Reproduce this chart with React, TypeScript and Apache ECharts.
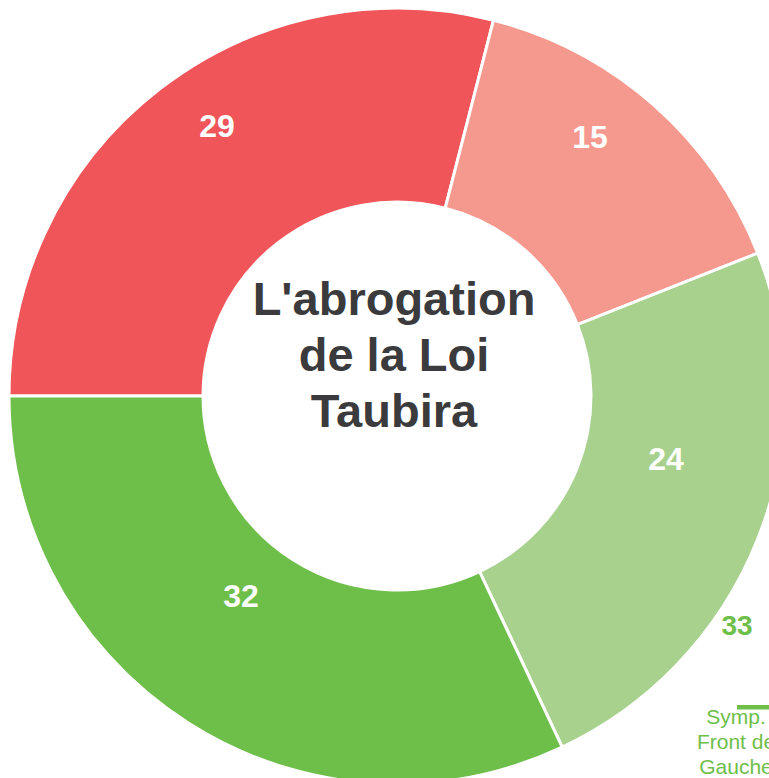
import React, { useEffect, useRef } from "react";
import * as echarts from "echarts";

const categories = ["Tout à fait favorable", "Plutôt favorable", "Plutôt opposé", "Tout à fait opposé"];
const values = [29, 15, 24, 32];
const colors = ["#EF5559", "#F5988D", "#A8D18D", "#6EBE4A"];
const centerTitle = "L'abrogation\nde la Loi\nTaubira";
const sideValue = 33;
const sideLegend = "Symp.\nFront de\nGauche";

// label anchor points (pixel), per slice
const labelPoints: [number, number][] = [
  [217, 126],
  [590, 137],
  [666, 459],
  [241, 596],
];

export default function App() {
  const ref = useRef<HTMLDivElement>(null);
  useEffect(() => {
    if (!ref.current) return;
    const chart = echarts.init(ref.current, undefined, { renderer: "svg" });
    chart.setOption({
      animation: false,
      backgroundColor: "#ffffff",
      series: [
        {
          type: "pie",
          center: [397, 396],
          radius: [194, 388],
          startAngle: 180,
          clockwise: true,
          avoidLabelOverlap: false,
          itemStyle: { borderColor: "#ffffff", borderWidth: 3 },
          label: {
            show: true,
            position: "inside",
            formatter: "{c}",
            color: "#ffffff",
            fontSize: 32,
            fontWeight: "bold",
            fontFamily: "Liberation Sans, Arial, sans-serif",
            align: "center",
            verticalAlign: "middle",
          },
          labelLine: { show: false },
          labelLayout: (params: any) => ({
            x: labelPoints[params.dataIndex][0],
            y: labelPoints[params.dataIndex][1],
            align: "center",
            verticalAlign: "middle",
          }),
          emphasis: { disabled: true },
          data: categories.map((name, i) => ({
            name,
            value: values[i],
            itemStyle: { color: colors[i] },
          })),
        },
      ],
      graphic: [
        {
          type: "text",
          x: 394,
          y: 354,
          style: {
            text: centerTitle,
            fill: "#3B3B3D",
            font: "bold 47px 'Liberation Sans', Arial, sans-serif",
            lineHeight: 56,
            align: "center",
            verticalAlign: "middle",
          },
        },
        {
          type: "text",
          x: 737,
          y: 625,
          style: {
            text: String(sideValue),
            fill: "#6EBE4A",
            font: "bold 28px 'Liberation Sans', Arial, sans-serif",
            align: "center",
            verticalAlign: "middle",
          },
        },
        {
          type: "rect",
          shape: { x: 737, y: 705, width: 40, height: 4.5 },
          style: { fill: "#6EBE4A" },
        },
        {
          type: "text",
          x: 736,
          y: 741,
          style: {
            text: sideLegend,
            fill: "#6EBE4A",
            font: "21px 'Liberation Sans', Arial, sans-serif",
            lineHeight: 25,
            align: "center",
            verticalAlign: "middle",
          },
        },
      ],
    });
    return () => chart.dispose();
  }, []);
  return (
    <div
      ref={ref}
      style={{ position: "fixed", left: 0, top: 0, width: 769, height: 778 }}
    />
  );
}
